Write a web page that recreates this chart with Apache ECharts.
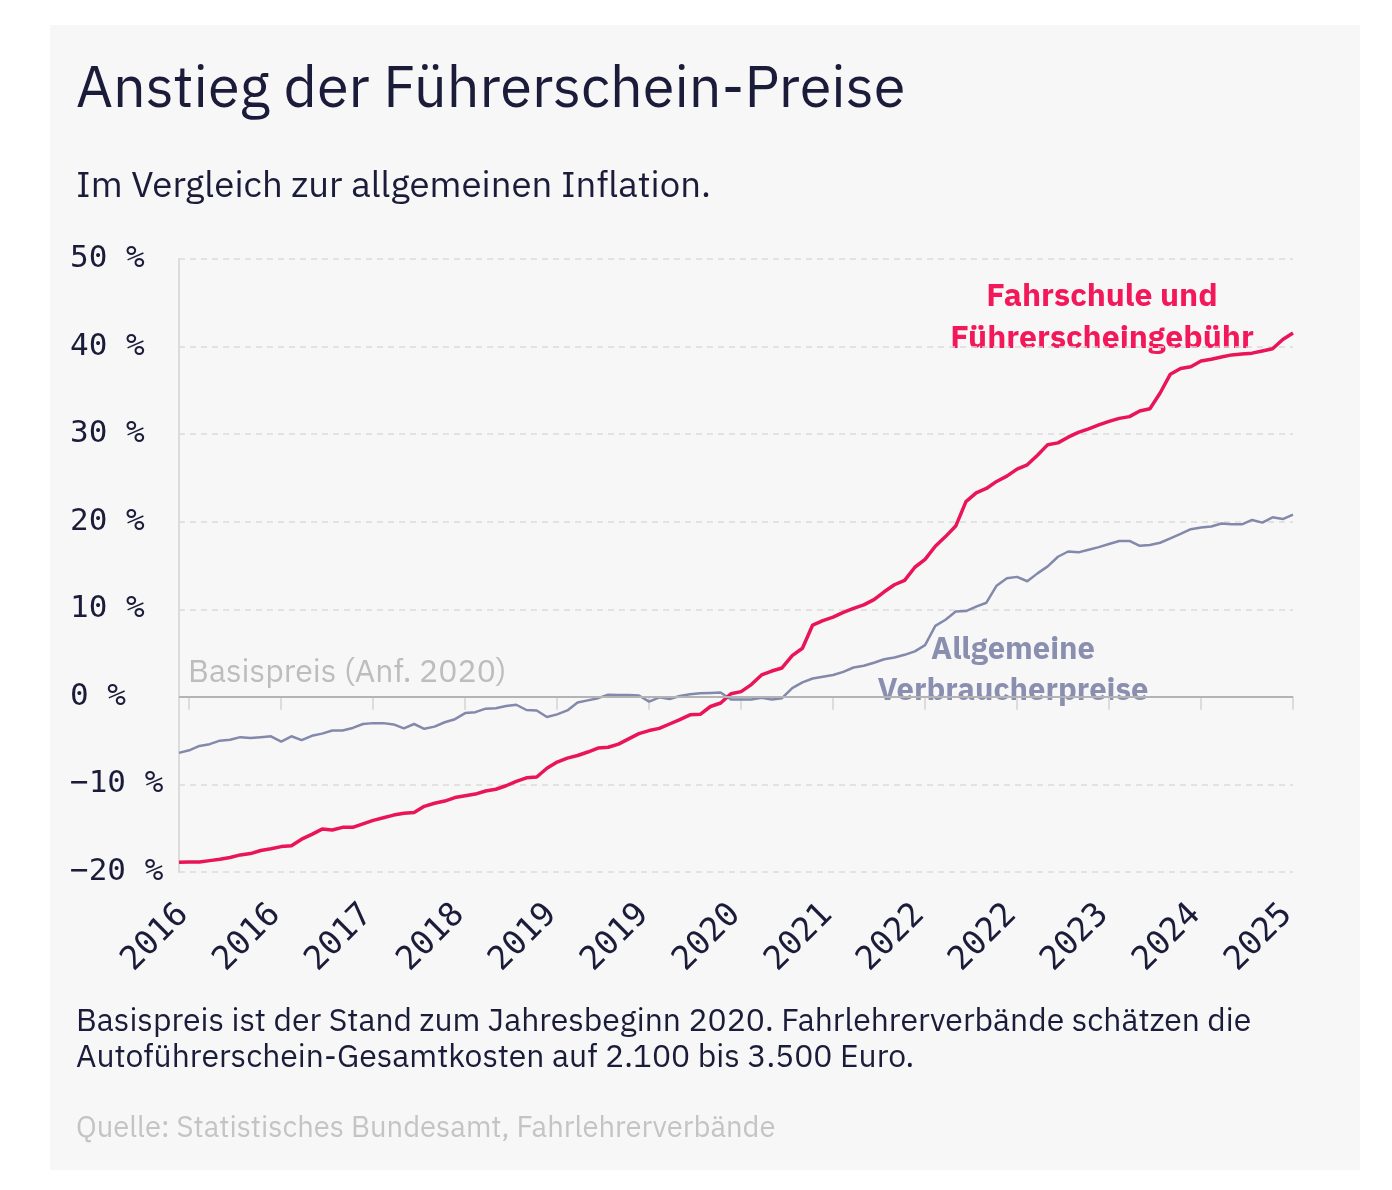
<!DOCTYPE html>
<html>
<head>
<meta charset="utf-8">
<script src="https://cdn.jsdelivr.net/npm/echarts@6/dist/echarts.min.js"></script>
<style>
    html, body { margin: 0; padding: 0; background: #ffffff; }
    #panel { position: absolute; left: 50px; top: 25px; width: 1310px; height: 1145px; background: #f7f7f7; }
    #chart { position: absolute; left: 0; top: 0; width: 1392px; height: 1190px; }
</style>
</head>
<body>
<div id="panel"></div>
<div id="chart"></div>
<script>
// monthly values, Dec 2015 .. Jan 2025, change vs. base (start of 2020) in %
const startYear = 2015;
const startMonth = 12;

const fahrschule = [
    -18.9, -18.85, -18.85, -18.7, -18.55, -18.35, -18.05, -17.9, -17.55, -17.35,
    -17.1, -17.0, -16.25, -15.7, -15.1, -15.2, -14.9, -14.9, -14.5, -14.1,
    -13.8, -13.5, -13.3, -13.2, -12.5, -12.15, -11.9, -11.5, -11.3, -11.1,
    -10.75, -10.55, -10.15, -9.65, -9.25, -9.15, -8.15, -7.45, -7.0, -6.7,
    -6.3, -5.85, -5.75, -5.4, -4.8, -4.2, -3.85, -3.6, -3.1, -2.6,
    -2.05, -2.0, -1.1, -0.7, 0.35, 0.6, 1.4, 2.5, 2.95, 3.3,
    4.7, 5.55, 8.2, 8.7, 9.1, 9.65, 10.1, 10.5, 11.1, 12.0,
    12.8, 13.3, 14.8, 15.7, 17.2, 18.3, 19.5, 22.3, 23.3, 23.8,
    24.6, 25.2, 26.0, 26.5, 27.6, 28.8, 29.0, 29.65, 30.2, 30.6,
    31.05, 31.45, 31.8, 32.0, 32.65, 32.9, 34.7, 36.85, 37.5, 37.7,
    38.35, 38.55, 38.8, 39.05, 39.15, 39.25, 39.5, 39.75, 40.8, 41.55
];

const verbraucher = [
    -6.4, -6.1, -5.6, -5.4, -5.0, -4.9, -4.6, -4.7, -4.6, -4.5,
    -5.1, -4.5, -4.95, -4.45, -4.2, -3.85, -3.85, -3.55, -3.1, -3.0,
    -3.0, -3.15, -3.6, -3.1, -3.65, -3.4, -2.9, -2.55, -1.85, -1.75,
    -1.35, -1.3, -1.05, -0.9, -1.5, -1.55, -2.3, -2.0, -1.55, -0.65,
    -0.4, -0.15, 0.25, 0.2, 0.2, 0.15, -0.55, -0.05, -0.25, 0.1,
    0.3, 0.4, 0.45, 0.5, -0.3, -0.3, -0.3, -0.1, -0.3, -0.15,
    1.0, 1.65, 2.1, 2.3, 2.5, 2.85, 3.35, 3.55, 3.9, 4.3,
    4.5, 4.8, 5.2, 5.9, 8.1, 8.8, 9.75, 9.8, 10.3, 10.75,
    12.7, 13.55, 13.7, 13.2, 14.1, 14.9, 16.0, 16.6, 16.5, 16.8,
    17.1, 17.45, 17.8, 17.8, 17.25, 17.35, 17.6, 18.1, 18.6, 19.15,
    19.35, 19.45, 19.8, 19.7, 19.7, 20.2, 19.9, 20.5, 20.3, 20.8
];

const months = [];
for (let i = 0; i < fahrschule.length; i++) {
    const m = startMonth - 1 + i;
    const y = startYear + Math.floor(m / 12);
    months.push(y + "-" + String(m % 12 + 1).padStart(2, "0"));
}

const tickEvery = 9;   // a year label every 9 months, starting Jan 2016
const tickStart = 1;

const navy = "#1b1b3a";
const sans = "'IBM Plex Sans', 'Noto Sans', 'Open Sans', sans-serif";
const mono = "'DejaVu Sans Mono', 'Liberation Mono', monospace";

var chart = echarts.init(document.getElementById("chart"));

const showTick = index => (index - tickStart) % tickEvery === 0;

// one text line, x/y is its anchor (left or centre, vertical middle)
const textLine = (x, y, text, font, fill, align) => ({
    type: "text",
    x: x,
    y: y,
    style: { text: text, font: font, fill: fill, align: align || "left", verticalAlign: "middle" }
});

chart.setOption({
    backgroundColor: "transparent",
    animation: false,
    grid: { left: 179, right: 99, top: 259, bottom: 318 },
    xAxis: {
        type: "category",
        data: months,
        boundaryGap: false,
        axisLine: { lineStyle: { color: "#dcdcdc", width: 2 } },
        axisTick: { show: true, interval: showTick, length: 13, lineStyle: { color: "#dcdcdc", width: 2 } },
        axisLabel: {
            interval: showTick,
            rotate: 45,
            margin: 32,
            padding: [0, 8, 0, 0],
            color: navy,
            fontFamily: mono,
            fontSize: 33,
            formatter: v => v.slice(0, 4)
        },
        splitLine: { show: false }
    },
    yAxis: {
        type: "value",
        min: -20,
        max: 50,
        interval: 10,
        axisLine: { show: true, lineStyle: { color: "#dcdcdc", width: 2 } },
        axisTick: { show: false },
        axisLabel: {
            align: "left",
            margin: 109,
            color: navy,
            fontFamily: mono,
            fontSize: 31,
            formatter: v => String(v).replace("-", "\u2212") + " %"
        },
        splitLine: { lineStyle: { color: "#dcdcdc", type: [6, 5], width: 1.5 } }
    },
    series: [{
        name: "Allgemeine Verbraucherpreise",
        type: "line",
        data: verbraucher,
        symbol: "none",
        lineStyle: { color: "#8389aa", width: 2.5 },
        markLine: {
            silent: true,
            symbol: "none",
            label: { show: false },
            lineStyle: { color: "#b4b4b4", type: "solid", width: 2 },
            data: [{ yAxis: 0 }]
        },
        z: 3
    }, {
        name: "Fahrschule und Führerscheingebühr",
        type: "line",
        data: fahrschule,
        symbol: "none",
        lineStyle: { color: "#ea1458", width: 3.5 },
        z: 4
    }],
    graphic: [
        textLine(76, 90, "Anstieg der Führerschein-Preise", "400 57.6px " + sans, navy),
        textLine(76, 186, "Im Vergleich zur allgemeinen Inflation.", "400 36.6px " + sans, navy),
        textLine(188, 673, "Basispreis (Anf. 2020)", "400 32px " + sans, "#bdbdbd"),
        textLine(1102, 297, "Fahrschule und", "700 32px " + sans, "#f2185a", "center"),
        textLine(1102, 339, "Führerscheingebühr", "700 32px " + sans, "#f2185a", "center"),
        textLine(1013, 650, "Allgemeine", "700 31px " + sans, "#8a8fb0", "center"),
        textLine(1013, 691, "Verbraucherpreise", "700 31px " + sans, "#8a8fb0", "center"),
        textLine(76, 1022, "Basispreis ist der Stand zum Jahresbeginn 2020. Fahrlehrerverbände schätzen die", "400 31.9px " + sans, navy),
        textLine(76, 1058, "Autoführerschein-Gesamtkosten auf 2.100 bis 3.500 Euro.", "400 31.9px " + sans, navy),
        textLine(76, 1129, "Quelle: Statistisches Bundesamt, Fahrlehrerverbände", "400 29.2px " + sans, "#c4c4c4")
    ]
});
</script>
</body>
</html>
